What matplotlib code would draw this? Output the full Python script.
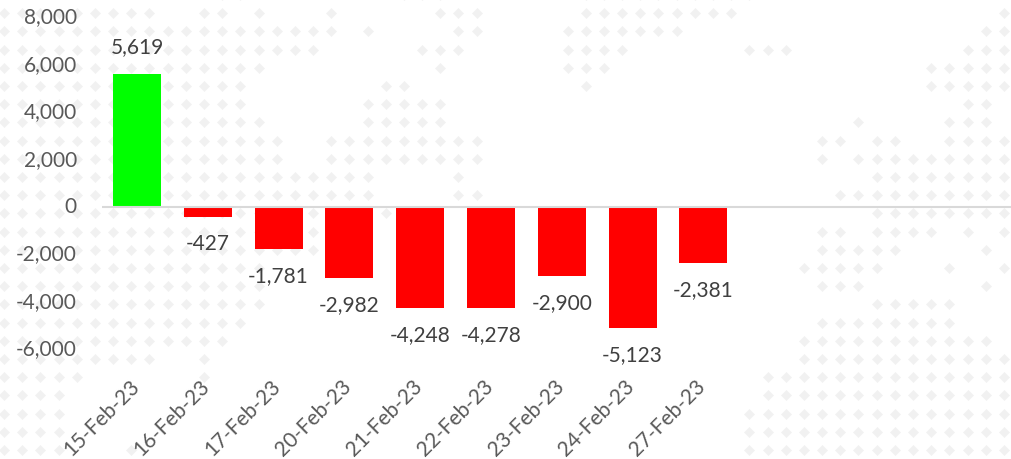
import matplotlib
matplotlib.use("Agg")
import matplotlib.pyplot as plt
from matplotlib.transforms import ScaledTranslation

dates = ["15-Feb-23", "16-Feb-23", "17-Feb-23", "20-Feb-23", "21-Feb-23",
         "22-Feb-23", "23-Feb-23", "24-Feb-23", "27-Feb-23"]
values = [5619, -427, -1781, -2982, -4248, -4278, -2900, -5123, -2381]
yticks = [-6000, -4000, -2000, 0, 2000, 4000, 6000, 8000]

# dotted map behind the chart: one entry per row of dots, (first col, last col) runs
map_rows = [
    [(12, 13), (22, 24), (32, 41)],
    [(0, 8), (11, 12), (14, 14), (18, 18), (24, 26), (32, 40), (55, 55)],
    [(0, 18), (20, 20), (25, 26), (31, 37), (54, 55)],
    [(0, 17), (23, 25), (31, 34), (41, 43), (53, 55)],
    [(0, 14), (24, 24), (31, 33), (51, 55)],
    [(0, 13), (21, 22), (32, 32), (51, 55)],
    [(0, 13), (20, 24), (53, 54)],
    [(0, 14), (20, 24), (47, 47), (52, 54)],
    [(0, 15), (18, 26), (45, 46), (48, 49), (52, 55)],
    [(0, 15), (18, 26), (45, 45), (47, 55)],
    [(0, 20), (25, 25), (48, 55)],
    [(0, 20), (25, 26), (46, 55)],
    [(0, 17), (21, 21), (48, 55)],
    [(0, 17), (45, 46), (48, 51), (53, 53), (55, 55)],
    [(0, 17), (45, 49), (54, 54)],
    [(0, 14), (44, 48), (52, 52), (55, 55)],
    [(0, 14), (45, 47), (54, 54)],
    [(0, 14), (48, 52)],
    [(0, 13), (45, 52)],
    [(0, 12), (44, 54)],
    [(0, 8), (11, 11), (44, 55)],
    [(0, 4), (11, 11), (42, 55)],
    [(0, 3), (42, 55)],
    [(0, 3), (41, 55)],
    [(0, 3), (41, 55)],
    [(0, 3), (7, 7), (41, 55)],
]

W, H = 1012, 459
plt.rcParams["font.family"] = ["Lato", "DejaVu Sans"]
fig = plt.figure(figsize=(W / 100, H / 100), dpi=100)

# background layer works in pixels
bg = fig.add_axes([0, 0, 1, 1], zorder=0)
bg.set_xlim(0, W)
bg.set_ylim(H, 0)
bg.axis("off")
xs, ys = [], []
for j, runs in enumerate(map_rows):
    for a, b in runs:
        for k in range(a, b + 1):
            xs.append(4 + 18.18 * k)
            ys.append(-5 + 18.2 * j)
bg.scatter(xs, ys, marker="D", s=31, color="#f1f1f1", linewidths=0, clip_on=False)

# axes box: x 102..1012 px, 8000 at 17.4 px, -7000 at 372.9 px
ax = fig.add_axes([102 / W, 1 - 372.9 / H, 910 / W, (372.9 - 17.4) / H], zorder=1)
ax.patch.set_alpha(0)
for s in ax.spines.values():
    s.set_visible(False)

colors = ["#00ff00" if v > 0 else "#ff0000" for v in values]
pos = list(range(len(values)))
ax.bar(pos, values, width=0.678, color=colors, zorder=2)
ax.axhline(0, color="#d9d9d9", lw=1.5, zorder=3)

ax.set_xlim(-0.494, 12.36)
ax.set_ylim(-7000, 8000)
ax.set_yticks(yticks)
ax.set_yticklabels([f"{t:,}" for t in yticks], fontsize=15, color="#595959")
ax.tick_params(axis="y", length=0, pad=18)
ax.set_xticks(pos)
ax.set_xticklabels(dates, rotation=45, ha="right", rotation_mode="anchor",
                   fontsize=15, color="#595959")
ax.tick_params(axis="x", length=0, pad=6)

# nudge tick labels in pixels
shift_y = ScaledTranslation(0, 2 / 100, fig.dpi_scale_trans)
for t in ax.get_yticklabels():
    t.set_transform(t.get_transform() + shift_y)
shift_x = ScaledTranslation(-8 / 100, 5 / 100, fig.dpi_scale_trans)
for t in ax.get_xticklabels():
    t.set_transform(t.get_transform() + shift_x)

for p, v in zip(pos, values):
    off = 19.5 if v > 0 else -19.5
    ax.annotate(f"{v:,}", (p, v), xytext=(0, off), textcoords="offset points",
                ha="center", va="center", fontsize=15, color="#404040", zorder=4)

fig.savefig("out.png", dpi=100)
